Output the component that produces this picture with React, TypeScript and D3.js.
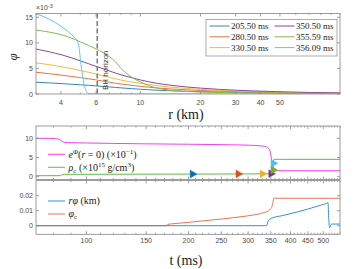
import React from "react";
import * as d3 from "d3";

const W = 358;
const H = 269;

// ---------- Panel 1: phi(r) profiles (x 1e-3) ----------
const rDomain = [3, 100];
const phiDomain = [0, 15.74];
const rMajorTicks = [4, 6, 10, 20, 30, 40, 50];
const phiTicks = [0, 5, 10, 15];
const rBH = 6.08;

const rGrid = [3, 3.5, 4, 4.5, 5, 5.5, 6, 6.5, 7, 7.5, 8, 9, 10, 11, 12, 14, 17, 20, 25, 30, 40, 50, 70, 100];
const phi205 = [2.3, 2.17, 2.04, 1.92, 1.8, 1.69, 1.58, 1.48, 1.38, 1.29, 1.2, 1.05, 0.93, 0.83, 0.75, 0.64, 0.53, 0.46, 0.37, 0.31, 0.24, 0.19, 0.14, 0.1];
const phi280 = [4.25, 3.97, 3.7, 3.44, 3.2, 2.97, 2.75, 2.52, 2.3, 2.12, 1.95, 1.7, 1.5, 1.33, 1.2, 1.0, 0.82, 0.7, 0.56, 0.46, 0.35, 0.28, 0.2, 0.14];
const phi330 = [6.1, 5.73, 5.35, 4.98, 4.6, 4.25, 3.9, 3.58, 3.25, 2.98, 2.72, 2.36, 2.1, 1.86, 1.66, 1.36, 1.08, 0.9, 0.7, 0.58, 0.43, 0.35, 0.25, 0.17];
const phi350 = [8.8, 8.25, 7.7, 7.1, 6.5, 5.92, 5.4, 4.95, 4.5, 4.1, 3.75, 3.2, 2.75, 2.4, 2.12, 1.74, 1.38, 1.15, 0.9, 0.74, 0.55, 0.44, 0.31, 0.21];
const phi355a = [12.5, 12.1, 11.6, 10.95, 10.2, 9.5, 8.8, 8.1, 7.3, 6.3, 5.0, 3.35, 2.35, 1.65, 1.2, 0.75, 0.5, 0.38, 0.3, 0.25, 0.2, 0.17, 0.13, 0.1];
const rCyan = [3, 3.25, 3.5, 3.75, 4, 4.25, 4.5, 4.7, 4.85, 4.93, 5.0, 5.08, 5.17, 5.26, 5.38, 5.5, 5.7, 6, 10, 100];
const phi356 = [15.7, 15.2, 14.6, 13.95, 13.25, 12.5, 11.7, 10.95, 10.15, 9.2, 6.9, 4.8, 2.8, 1.4, 0.45, 0.12, 0.02, 0, 0, 0];

const seriesLabels = ["205.50 ms", "280.50 ms", "330.50 ms", "350.50 ms", "355.59 ms", "356.09 ms"];
const seriesColors = ["#2f86c9", "#e8743f", "#f0bd3c", "#8e45a0", "#86bb48", "#5ccaf2"];
const markerColors = ["#0072BD", "#D95319", "#EDB120", "#7E2F8E", "#77AC30", "#4DBEEE"];

// ---------- Panels 2 & 3: time evolution ----------
const tDomain = [71, 560];
const tMajorTicks = [100, 150, 200, 250, 300, 350, 400, 450, 500];
const p2Domain = [-0.73, 13.2];
const p2Ticks = [0, 5, 10];
const p3Domain = [-0.00573, 0.03013];
const p3Ticks = [0, 0.01, 0.02];

const tE = [71, 78, 81, 83, 84.5, 86, 90, 100, 120, 150, 200, 250, 300, 330, 340, 345, 349, 351, 353, 355, 356, 357, 358, 362, 400, 560];
const ePhi = [10, 9.98, 9.9, 9.75, 9.3, 8.95, 8.85, 8.78, 8.66, 8.55, 8.45, 8.35, 8.2, 8.0, 7.75, 7.35, 6.3, 4.9, 3.3, 2.1, 1.75, 1.6, 1.56, 1.55, 1.55, 1.55];
const tRho = [71, 83, 84.5, 86, 90, 150, 250, 350, 353, 354.5, 355.59, 356.09, 356.6, 357.2, 360, 560];
const rhoC = [0.26, 0.27, 0.45, 0.6, 0.62, 0.66, 0.7, 0.75, 0.9, 1.3, 1.75, 3.5, 4.3, 4.5, 4.52, 4.52];
const markerTimes = [205.5, 280.5, 330.5, 350.5, 355.59, 356.09];
const markerRho = [0.69, 0.72, 0.74, 0.78, 1.75, 3.5];

const tPhiC = [71, 172, 174, 180, 200, 220, 250, 280, 310, 335, 345, 350, 353, 355, 356, 357, 560];
const phiC = [0, 0, 0.0009, 0.0013, 0.0022, 0.0032, 0.0044, 0.0057, 0.0071, 0.0088, 0.01, 0.0113, 0.013, 0.0155, 0.0172, 0.0183, 0.0183];
const tRPhi = [71, 340, 343, 346, 350, 380, 420, 460, 500, 512, 516, 519, 522, 526, 530, 560];
const rPhi = [0, 0, 0.0025, 0.004, 0.0048, 0.0068, 0.0092, 0.0117, 0.0142, 0.015, 0.0155, 0.004, -0.0015, 0.0005, 0.0011, 0.0011];

const AX = "#858585";
const TXT = "#4a4a4a";
const SANS = "'Liberation Sans', Arial, sans-serif";
const SERIF = "'Liberation Serif', 'Times New Roman', serif";

const L = 36;
const R = 340;

function Box({ x, y, yTicks, xMajor, xMinor, top, bottom, xLabels, yFmt, xLabelY }: any) {
  const els: any[] = [];
  els.push(<rect key="box" x={L} y={top} width={R - L} height={bottom - top} fill="none" stroke={AX} strokeWidth={0.8} />);
  yTicks.forEach((v: number, i: number) => {
    const yy = y(v);
    els.push(<line key={"yl" + i} x1={L} x2={L + 3} y1={yy} y2={yy} stroke={AX} strokeWidth={0.8} />);
    els.push(<line key={"yr" + i} x1={R} x2={R - 3} y1={yy} y2={yy} stroke={AX} strokeWidth={0.8} />);
    els.push(
      <text key={"yt" + i} x={33} y={yy + 2.5} textAnchor="end" fontSize={7} fontFamily={SANS} fill={TXT}>
        {yFmt(v)}
      </text>
    );
  });
  xMajor.forEach((v: number, i: number) => {
    const xx = x(v);
    els.push(<line key={"xb" + i} x1={xx} x2={xx} y1={bottom} y2={bottom - 3} stroke={AX} strokeWidth={0.8} />);
    els.push(<line key={"xt" + i} x1={xx} x2={xx} y1={top} y2={top + 3} stroke={AX} strokeWidth={0.8} />);
    if (xLabels) {
      els.push(
        <text key={"xl" + i} x={xx} y={xLabelY} textAnchor="middle" fontSize={7} fontFamily={SANS} fill={TXT}>
          {v}
        </text>
      );
    }
  });
  xMinor.forEach((v: number, i: number) => {
    const xx = x(v);
    els.push(<line key={"mb" + i} x1={xx} x2={xx} y1={bottom} y2={bottom - 1.6} stroke={AX} strokeWidth={0.7} />);
    els.push(<line key={"mt" + i} x1={xx} x2={xx} y1={top} y2={top + 1.6} stroke={AX} strokeWidth={0.7} />);
  });
  return <g>{els}</g>;
}

export default function App() {
  const T1 = 13.5, B1 = 94;
  const T2 = 126, B2 = 179.5;
  const T3 = 180.5, B3 = 234.3;

  const x1 = d3.scaleLog().domain(rDomain).range([L, R]);
  const y1 = d3.scaleLinear().domain(phiDomain).range([B1, T1]);
  const x2 = d3.scaleLog().domain(tDomain).range([L, R]);
  const y2 = d3.scaleLinear().domain(p2Domain).range([B2, T2]);
  const y3 = d3.scaleLinear().domain(p3Domain).range([B3, T3]);

  const mk = (xs: number[], ys: number[], xs_: any, ys_: any) =>
    d3
      .line<number>()
      .x((_, i) => xs_(xs[i]))
      .y((d) => ys_(d))
      .curve(d3.curveMonotoneX)(ys) as string;

  const panel1Series = [phi205, phi280, phi330, phi350, phi355a];

  const rMinor: number[] = [];
  [3, 5, 7, 8, 9, 60, 70, 80, 90, 100].forEach((v) => rMinor.push(v));
  const tMinor: number[] = [];
  for (let t = 80; t <= 560; t += 10) if (!tMajorTicks.includes(t)) tMinor.push(t);

  const legendRows = [0, 1, 2];

  return (
    <svg width={W} height={H} style={{ position: "absolute", left: 0, top: 0, background: "#fff" }}>
      <defs>
        <clipPath id="c1"><rect x={L} y={T1} width={R - L} height={B1 - T1} /></clipPath>
        <clipPath id="c2"><rect x={L} y={T2} width={R - L} height={B2 - T2} /></clipPath>
        <clipPath id="c3"><rect x={L} y={T3} width={R - L} height={B3 - T3} /></clipPath>
      </defs>

      {/* ===== Panel 1 ===== */}
      <g clipPath="url(#c1)">
        {panel1Series.map((s, i) => (
          <path key={i} d={mk(rGrid, s, x1, y1)} fill="none" stroke={seriesColors[i]} strokeWidth={1} />
        ))}
        <path d={mk(rCyan, phi356, x1, y1)} fill="none" stroke={seriesColors[5]} strokeWidth={1} />
      </g>
      <line x1={x1(rBH)} x2={x1(rBH)} y1={T1} y2={B1} stroke="#7a7a7a" strokeWidth={1.5} strokeDasharray="5,2.5" />
      <text
        x={x1(rBH) + 11}
        y={90}
        transform={`rotate(-90, ${x1(rBH) + 11}, 90)`}
        fontSize={8}
        fontFamily={SANS}
        fill="#3a3a3a"
      >
        BH horizon
      </text>
      <Box x={x1} y={y1} yTicks={phiTicks} xMajor={rMajorTicks} xMinor={rMinor} top={T1} bottom={B1} xLabels yFmt={(v: number) => String(v)} xLabelY={105} />
      <text x={36} y={10} fontSize={7} fontFamily={SANS} fill={TXT}>
        ×10<tspan fontSize={5.5} dy={-2.5}>-3</tspan>
      </text>
      <text x={17} y={57} transform="rotate(-90, 17, 57)" textAnchor="middle" fontSize={13} fontFamily={SERIF} fontStyle="italic" fill="#222">
        φ
      </text>
      <text x={186} y={119} textAnchor="middle" fontSize={14} fontFamily={SERIF} fill="#222">
        r (km)
      </text>

      {/* legend panel 1 */}
      <rect x={206} y={19.5} width={131} height={36.5} fill="#fff" stroke="#9a9a9a" strokeWidth={0.8} />
      {seriesLabels.map((lab, i) => {
        const col = Math.floor(i / 3);
        const row = legendRows[i % 3];
        const lx = col === 0 ? 209.5 : 274.5;
        const ly = 26 + row * 10.8;
        return (
          <g key={i}>
            <line x1={lx} x2={lx + 20} y1={ly} y2={ly} stroke={seriesColors[i]} strokeWidth={1} />
            <text x={lx + 21.5} y={ly + 3} fontSize={9} fontFamily={SERIF} fill="#222">
              {lab}
            </text>
          </g>
        );
      })}

      {/* ===== Panel 2 ===== */}
      <g clipPath="url(#c2)">
        <path d={mk(tE, ePhi, x2, y2)} fill="none" stroke="#f040f0" strokeWidth={1} />
        <path d={mk(tRho, rhoC, x2, y2)} fill="none" stroke="#55c23a" strokeWidth={1} />
      </g>
      {markerTimes.map((t, i) => (
        <path
          key={i}
          d={d3.symbol().type(d3.symbolTriangle).size(26)() as string}
          transform={`translate(${x2(t)}, ${y2(markerRho[i])}) rotate(90)`}
          fill={markerColors[i]}
          stroke={markerColors[i]}
          strokeWidth={0.5}
        />
      ))}
      <Box x={x2} y={y2} yTicks={p2Ticks} xMajor={tMajorTicks} xMinor={tMinor} top={T2} bottom={B2} xLabels={false} yFmt={(v: number) => String(v)} xLabelY={0} />
      <line x1={48} x2={65} y1={154.3} y2={154.3} stroke="#f040f0" strokeWidth={1} />
      <text x={68.5} y={157.5} fontSize={10} fontFamily={SERIF} fill="#222">
        <tspan fontStyle="italic">e</tspan>
        <tspan fontSize={7} dy={-4}>Φ</tspan>
        <tspan dy={4}>(</tspan>
        <tspan fontStyle="italic">r</tspan>
        <tspan> = 0) (×10</tspan>
        <tspan fontSize={7} dy={-4}>−1</tspan>
        <tspan dy={4}>)</tspan>
      </text>
      <line x1={48} x2={65} y1={167.3} y2={167.3} stroke="#55c23a" strokeWidth={1} />
      <text x={68.5} y={170.5} fontSize={10} fontFamily={SERIF} fill="#222">
        <tspan fontStyle="italic">ρ</tspan>
        <tspan fontSize={7} dy={2}>c</tspan>
        <tspan dy={-2}> (×10</tspan>
        <tspan fontSize={7} dy={-4}>15</tspan>
        <tspan dy={4}> g/cm</tspan>
        <tspan fontSize={7} dy={-4}>3</tspan>
        <tspan dy={4}>)</tspan>
      </text>

      {/* ===== Panel 3 ===== */}
      <g clipPath="url(#c3)">
        <path d={mk(tPhiC, phiC, x2, y3)} fill="none" stroke="#e8764a" strokeWidth={1} />
        <path d={mk(tRPhi, rPhi, x2, y3)} fill="none" stroke="#3b8fd6" strokeWidth={1} />
      </g>
      <Box x={x2} y={y3} yTicks={p3Ticks} xMajor={tMajorTicks} xMinor={tMinor} top={T3} bottom={B3} xLabels yFmt={(v: number) => (v === 0 ? "0" : d3.format(".2f")(v))} xLabelY={243} />
      <line x1={48} x2={65} y1={201} y2={201} stroke="#3b8fd6" strokeWidth={1} />
      <text x={68.5} y={204.3} fontSize={10} fontFamily={SERIF} fill="#222">
        <tspan fontStyle="italic">rφ</tspan>
        <tspan> (km)</tspan>
      </text>
      <line x1={48} x2={65} y1={214} y2={214} stroke="#e8764a" strokeWidth={1} />
      <text x={68.5} y={217.3} fontSize={10} fontFamily={SERIF} fill="#222">
        <tspan fontStyle="italic">φ</tspan>
        <tspan fontSize={7} dy={2}>c</tspan>
      </text>
      <text x={186} y={265} textAnchor="middle" fontSize={14} fontFamily={SERIF} fill="#222">
        t (ms)
      </text>
    </svg>
  );
}
